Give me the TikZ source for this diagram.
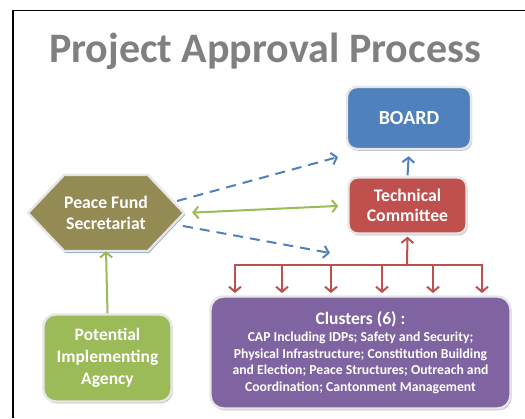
\documentclass[tikz,border=0pt]{standalone}
\usepackage{fontspec}
\setmainfont{Carlito}
\usetikzlibrary{arrows.meta,shadows,calc}
\definecolor{boardblue}{HTML}{4F81BD}
\definecolor{tcred}{HTML}{C0504D}
\definecolor{psfolive}{HTML}{948A54}
\definecolor{piagreen}{HTML}{9BBB59}
\definecolor{clpurple}{HTML}{8064A2}
\definecolor{rimgray}{HTML}{E6E6E6}
\definecolor{hexshadow}{HTML}{8FAABF}
\begin{document}
\begin{tikzpicture}[x=1pt,y=-1pt,
  box/.style={rectangle, rounded corners=9pt, draw=rimgray, line width=2.4pt,
    text=white, align=center, inner sep=0pt,
    drop shadow={shadow xshift=1.2pt, shadow yshift=-1.8pt, fill=black!45, opacity=0.55}},
  link/.style={line width=2pt, -{Straight Barb[length=5pt,width=12pt]}},
  dashlink/.style={link, dash pattern=on 10pt off 7pt},
]
\useasboundingbox (0,0) rectangle (525,418);
\fill[white] (0,0) rectangle (525,418);

% partial frame
\draw[line width=1.3pt] (13,418) -- (13,10.5) -- (525,10.5);

% heading
\node[text=black!50, font=\fontsize{42}{50}\selectfont\bfseries, anchor=base, inner sep=0pt]
  (title) at (265,62) {Project Approval Process};

% Peace Fund Secretariat hexagon
\path[fill=psfolive, draw=rimgray, line width=2.4pt,
      drop shadow={shadow xshift=1pt, shadow yshift=-2pt, fill=hexshadow, opacity=0.9}]
  (28,213) -- (64,175) -- (148,175) -- (184,213) -- (148,251) -- (64,251) -- cycle;
\node[text=white, align=center, inner sep=0pt, minimum width=156, minimum height=76,
      font=\fontsize{17.7}{20.5}\selectfont\bfseries] (psf) at (106,213) {Peace Fund\\Secretariat};

% boxes
\node[box, fill=boardblue, minimum width=124, minimum height=62, rounded corners=10pt,
      font=\fontsize{20}{22}\selectfont\bfseries] (board) at (409,118) {BOARD};
\node[box, fill=tcred, minimum width=118, minimum height=56,
      font=\fontsize{17.7}{20.5}\selectfont\bfseries] (tc) at (407.5,205.5) {Technical\\Committee};
\node[box, fill=piagreen, minimum width=128, minimum height=87, rounded corners=12pt,
      font=\fontsize{17.5}{22}\selectfont\bfseries] (pia) at (107.5,358) {Potential\\Implementing\\Agency};
\node[box, fill=clpurple, minimum width=300, minimum height=112, rounded corners=13pt,
      font=\fontsize{13.7}{16.5}\selectfont\bfseries] (cl) at (360.5,352.5)
  {{\fontsize{17.5}{18}\selectfont Clusters (6) :}\\[1pt]
   CAP Including IDPs; Safety and Security;\\
   Physical Infrastructure; Constitution Building\\
   and Election; Peace Structures; Outreach and\\
   Coordination; Cantonment Management};

% connector end points
\coordinate (hexNE) at (177,201);
\coordinate (hexSE) at (183,226);
\coordinate (boardSW) at (338,157);
\coordinate (clNW) at (330,253);
\coordinate (hub) at (407,265);

% Secretariat links
\draw[dashlink, boardblue] (hexNE) -- (boardSW);
\draw[dashlink, boardblue] (hexSE) -- (clNW);
\draw[link, piagreen, {Straight Barb[length=5pt,width=12pt]}-{Straight Barb[length=5pt,width=12pt]},
      shorten <=8pt, shorten >=9pt] (psf.east) -- (tc.west);
\draw[link, piagreen, shorten >=0pt] (pia.north) -- (psf.south);

% Technical Committee to Board
\draw[link, boardblue, shorten <=1pt, shorten >=6pt] (tc.north) -- (board.south);

% clusters feeding the committee
\draw[link, tcred, shorten >=2pt] (hub) -- (tc.south);
\foreach \x [count=\i] in {235,282,331,382,433,482} {
  \coordinate (c\i) at (\x,293);
  \draw[link, tcred] (hub) -| (c\i);
}
\end{tikzpicture}
\end{document}
